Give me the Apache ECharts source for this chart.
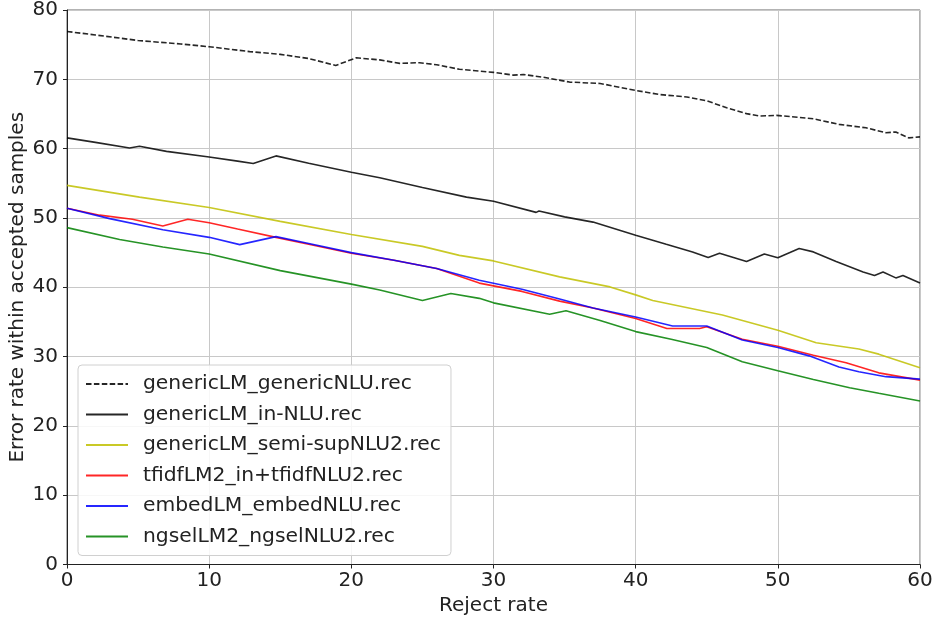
<!DOCTYPE html>
<html>
<head>
<meta charset="utf-8">
<script src="https://cdn.jsdelivr.net/npm/echarts@6/dist/echarts.min.js"></script>
<style>html,body{margin:0;padding:0;background:#fff}#c{width:933px;height:618px}</style>
</head>
<body>
<div id="c"></div>
<script>
const seriesNames = ['genericLM_genericNLU.rec','genericLM_in-NLU.rec','genericLM_semi-supNLU2.rec','tfidfLM2_in+tfidfNLU2.rec','embedLM_embedNLU.rec','ngselLM2_ngselNLU2.rec'];
const xTicks = [0,10,20,30,40,50,60];
const yTicks = [0,10,20,30,40,50,60,70,80];

const x1 = [0, 2, 5, 8, 10, 12.85, 15, 17, 18.9, 20.35, 22, 23.4, 24.8, 26, 27.6, 30, 31.4, 32.1, 33.5, 35.35, 37.5, 40, 41.7, 43.6, 45, 46.4, 47.8, 48.7, 49.9, 51, 52.5, 54.3, 56.2, 57.6, 58.3, 59.2, 60];
const y1 = [76.9, 76.4, 75.6, 75.1, 74.7, 74.0, 73.6, 73.0, 72.0, 73.1, 72.8, 72.3, 72.4, 72.1, 71.45, 71.0, 70.6, 70.7, 70.3, 69.6, 69.4, 68.4, 67.8, 67.45, 66.9, 65.9, 65.05, 64.7, 64.8, 64.6, 64.3, 63.5, 63.0, 62.3, 62.4, 61.55, 61.7];

const x2 = [0, 2, 4.4, 5.1, 7, 10, 12, 13.1, 14.7, 17, 20, 22, 25, 28.1, 30, 33.0, 33.2, 35, 37, 40, 42.15, 44, 45.1, 45.9, 47.8, 49.05, 50, 51.5, 52.5, 54.1, 56, 56.8, 57.4, 58.3, 58.8, 60];
const y2 = [61.55, 60.9, 60.1, 60.35, 59.6, 58.8, 58.2, 57.85, 58.95, 57.9, 56.6, 55.8, 54.4, 53.0, 52.4, 50.8, 51.0, 50.15, 49.4, 47.5, 46.2, 45.1, 44.3, 44.9, 43.7, 44.8, 44.25, 45.6, 45.1, 43.7, 42.2, 41.7, 42.2, 41.35, 41.7, 40.6];

const x3 = [0, 5.1, 10, 15, 20, 25, 27.6, 30, 34.65, 38.2, 40, 41.2, 46.1, 50, 52.7, 55.7, 57.1, 60];
const y3 = [54.7, 53.0, 51.5, 49.5, 47.6, 45.9, 44.6, 43.8, 41.5, 40.05, 38.9, 38.1, 36.0, 33.8, 32.0, 31.1, 30.35, 28.4];

const x4 = [0, 2.3, 4.6, 6.74, 8.5, 10, 12, 14.7, 17, 20, 23, 26, 29, 32, 34.65, 37, 40, 42.2, 44.5, 45, 47.5, 50, 52.5, 54.8, 57.1, 60];
const y4 = [51.4, 50.4, 49.8, 48.85, 49.8, 49.3, 48.4, 47.2, 46.2, 44.9, 43.9, 42.7, 40.6, 39.4, 38.0, 37.0, 35.5, 34.05, 34.05, 34.3, 32.5, 31.5, 30.2, 29.1, 27.65, 26.6];

const x5 = [0, 3, 6.74, 10, 12.15, 14.7, 17, 20, 23, 26, 29, 32, 34.65, 37, 40, 42.6, 45, 47.5, 50, 52.2, 54.3, 55.7, 57.6, 60];
const y5 = [51.4, 49.9, 48.3, 47.2, 46.15, 47.3, 46.3, 45.0, 43.9, 42.7, 41.0, 39.7, 38.3, 37.0, 35.7, 34.4, 34.4, 32.4, 31.3, 30.1, 28.5, 27.8, 27.1, 26.75];

const x6 = [0, 3.7, 6.74, 10, 15, 20, 22, 25, 27.0, 29, 30, 33.95, 35.1, 37.5, 40, 42.5, 45, 47.5, 50, 52.5, 55.05, 57.1, 60];
const y6 = [48.6, 46.9, 45.8, 44.8, 42.4, 40.45, 39.6, 38.1, 39.1, 38.4, 37.75, 36.1, 36.6, 35.2, 33.6, 32.5, 31.3, 29.25, 27.95, 26.7, 25.5, 24.7, 23.6];

const allX = [x1,x2,x3,x4,x5,x6];
const allY = [y1,y2,y3,y4,y5,y6];
const colors = ['#000000','#000000','#bfbf00','#ff0000','#0000ff','#008000'];
const dashes = [[5.5,2.4],'solid','solid','solid','solid','solid'];

const font = 'DejaVu Sans';
const chart = echarts.init(document.getElementById('c'), null, {renderer:'canvas'});
const series = seriesNames.map((name,i)=>({
  name: name,
  type: 'line',
  data: allX[i].map((x,j)=>[x, allY[i][j]]),
  symbol: 'none',
  showSymbol: false,
  smooth: false,
  animation: false,
  lineStyle: {color: colors[i], width: 1.6, type: dashes[i], opacity: 0.85},
  itemStyle: {color: colors[i]},
  emphasis: {disabled: true}
}));

chart.setOption({
  animation: false,
  backgroundColor: '#fff',
  grid: {left: 67, right: 13, top: 10, bottom: 53.5, show: true, borderColor: '#666', borderWidth: 1, backgroundColor: 'transparent', containLabel: false, outerBoundsMode: 'none'},
  xAxis: {
    type: 'value', min: xTicks[0], max: xTicks[xTicks.length-1], interval: 10,
    name: 'Reject rate', nameLocation: 'middle', nameGap: 31, nameMoveOverlap: false,
    nameTextStyle: {fontFamily: font, fontSize: 20, color: '#222'},
    axisLine: {show: true, lineStyle: {color: '#222', width: 1}},
    axisTick: {show: true, length: 4, lineStyle: {color: '#222'}},
    axisLabel: {fontFamily: font, fontSize: 20, color: '#222', margin: 6},
    splitLine: {show: true, lineStyle: {color: '#c8c8c8', width: 1}}
  },
  yAxis: {
    type: 'value', min: yTicks[0], max: yTicks[yTicks.length-1], interval: 10,
    name: 'Error rate within accepted samples', nameLocation: 'middle', nameGap: 39, nameMoveOverlap: false,
    nameTextStyle: {fontFamily: font, fontSize: 20, color: '#222'},
    axisLine: {show: true, lineStyle: {color: '#222', width: 1}},
    axisTick: {show: true, length: 4, lineStyle: {color: '#222'}},
    axisLabel: {fontFamily: font, fontSize: 20, color: '#222', margin: 9},
    splitLine: {show: true, lineStyle: {color: '#c8c8c8', width: 1}}
  },
  legend: {
    show: true, orient: 'vertical', left: 78, top: 365,
    data: seriesNames,
    itemWidth: 42, itemHeight: 14, itemGap: 10.5,
    padding: [9, 10, 9, 7],
    backgroundColor: 'rgba(255,255,255,0.85)',
    borderColor: '#d0d0d0', borderWidth: 1, borderRadius: 4,
    itemStyle: {opacity: 0},
    textStyle: {fontFamily: font, fontSize: 20.3, color: '#222', padding: [0,0,0,10]},
    selectedMode: false
  },
  series: series
});
</script>
</body>
</html>
